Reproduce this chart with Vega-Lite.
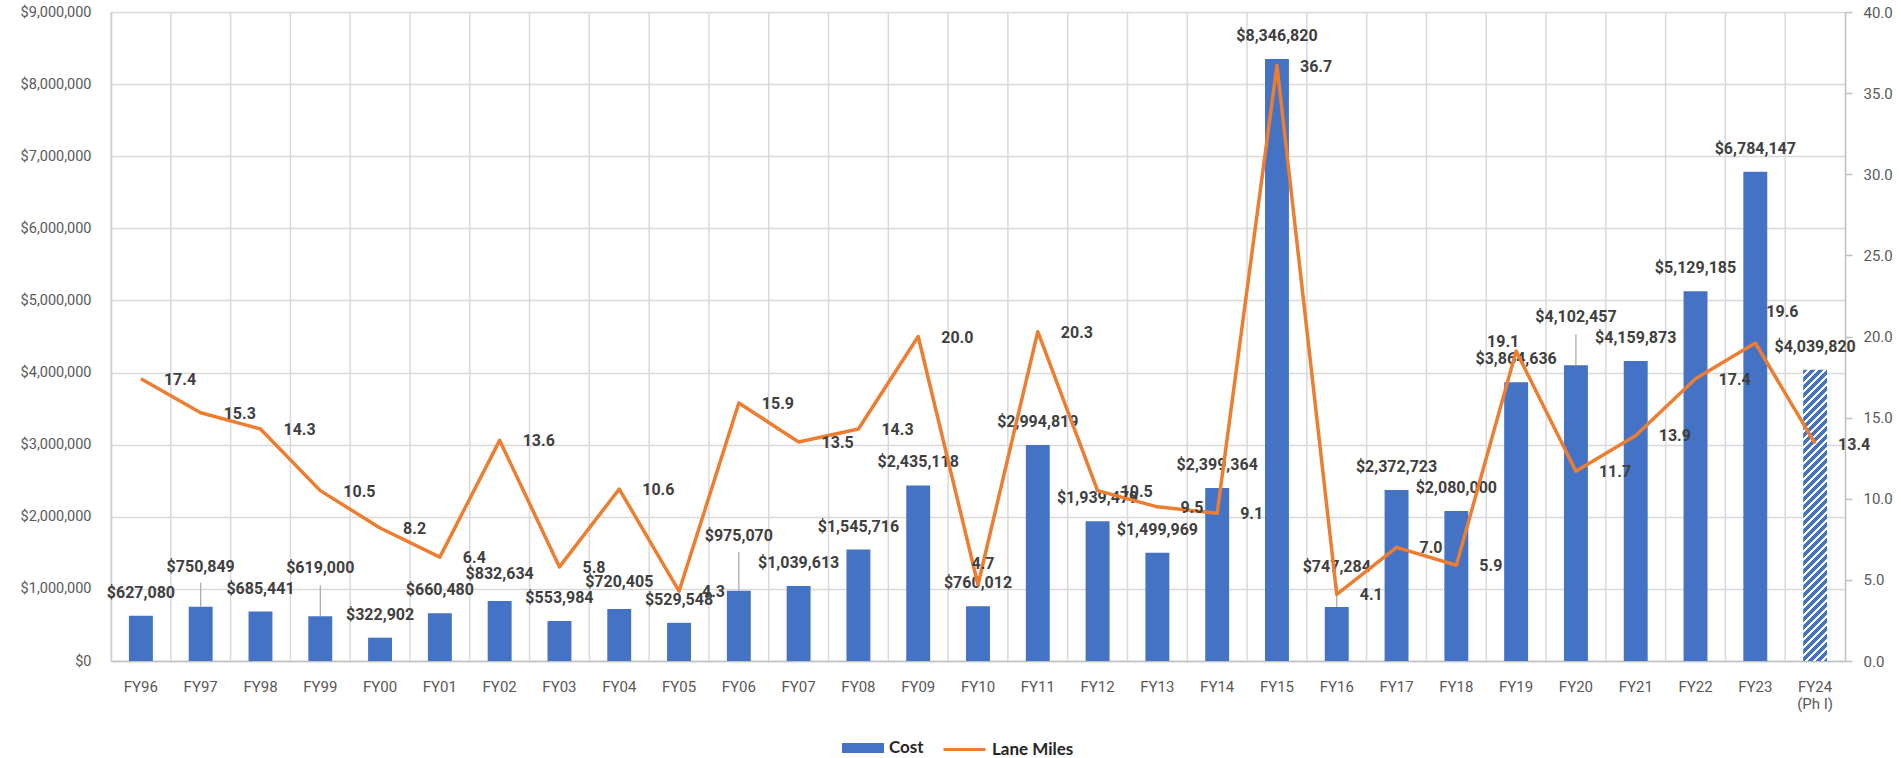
{
"$schema":"https://vega.github.io/schema/vega-lite/v6.json",
"width":1734,"height":649,
"padding":{"left":5,"top":4,"right":0,"bottom":0},
"background":"white",
"data":{"values":[
{"Year":"FY96","Cost":627080,"LaneMiles":17.4},
{"Year":"FY97","Cost":750849,"LaneMiles":15.3},
{"Year":"FY98","Cost":685441,"LaneMiles":14.3},
{"Year":"FY99","Cost":619000,"LaneMiles":10.5},
{"Year":"FY00","Cost":322902,"LaneMiles":8.2},
{"Year":"FY01","Cost":660480,"LaneMiles":6.4},
{"Year":"FY02","Cost":832634,"LaneMiles":13.6},
{"Year":"FY03","Cost":553984,"LaneMiles":5.8},
{"Year":"FY04","Cost":720405,"LaneMiles":10.6},
{"Year":"FY05","Cost":529548,"LaneMiles":4.3},
{"Year":"FY06","Cost":975070,"LaneMiles":15.9},
{"Year":"FY07","Cost":1039613,"LaneMiles":13.5},
{"Year":"FY08","Cost":1545716,"LaneMiles":14.3},
{"Year":"FY09","Cost":2435118,"LaneMiles":20.0},
{"Year":"FY10","Cost":760012,"LaneMiles":4.7},
{"Year":"FY11","Cost":2994819,"LaneMiles":20.3},
{"Year":"FY12","Cost":1939479,"LaneMiles":10.5},
{"Year":"FY13","Cost":1499969,"LaneMiles":9.5},
{"Year":"FY14","Cost":2399364,"LaneMiles":9.1},
{"Year":"FY15","Cost":8346820,"LaneMiles":36.7},
{"Year":"FY16","Cost":747284,"LaneMiles":4.1},
{"Year":"FY17","Cost":2372723,"LaneMiles":7.0},
{"Year":"FY18","Cost":2080000,"LaneMiles":5.9},
{"Year":"FY19","Cost":3864636,"LaneMiles":19.1},
{"Year":"FY20","Cost":4102457,"LaneMiles":11.7},
{"Year":"FY21","Cost":4159873,"LaneMiles":13.9},
{"Year":"FY22","Cost":5129185,"LaneMiles":17.4},
{"Year":"FY23","Cost":6784147,"LaneMiles":19.6},
{"Year":"FY24 (Ph I)","Cost":4039820,"LaneMiles":13.4}
]},
"layer":[
{"layer":[
 {"mark":{"type":"rule","color":"#D9D9D9","strokeWidth":1.5},
  "encoding":{
   "x":{"field":"Year","type":"nominal","title":null,"sort":null,"bandPosition":-0.75,
     "scale":{"paddingInner":0.6,"paddingOuter":0.3},
     "axis":{"title":null,"labelAngle":0,"labelFont":"Roboto","labelFontSize":15,"labelColor":"#595959","labelPadding":18,"tickSize":0,"grid":false,"domainColor":"#BFBFBF","domainWidth":1.5,"labelOverlap":false,
       "labelExpr":"indexof(datum.value,' (')>0 ? [slice(datum.value,0,indexof(datum.value,' (')), slice(datum.value,indexof(datum.value,' (')+1)] : datum.value"}}
  }},
 {"transform":[{"filter":"datum.Year !== 'FY24 (Ph I)'"}],
  "mark":{"type":"bar"},
  "encoding":{
   "x":{"field":"Year","type":"nominal","title":null,"sort":null},
   "y":{"field":"Cost","type":"quantitative","title":null,
     "scale":{"domain":[0,9000000],"nice":false},
     "axis":{"title":null,"orient":"left","tickCount":9,"format":"$,.0f","labelFont":"Roboto","labelFontSize":14.5,"labelColor":"#595959","labelPadding":20,"tickSize":0,"grid":true,"gridColor":"#D9D9D9","gridWidth":1.5,"domainColor":"#BFBFBF","domainWidth":1.5,"minExtent":106,"maxExtent":106}},
   "fill":{"datum":"Cost","type":"nominal",
     "scale":{"domain":["Cost"],"range":["#4472C4"]},
     "legend":{"orient":"none","legendX":731,"legendY":715,"title":null,"symbolType":"M-1,-0.24L1,-0.24L1,0.24L-1,0.24Z","symbolSize":1764,"symbolStrokeWidth":0,"labelFont":"Lato","labelFontWeight":"bold","labelFontSize":17,"labelColor":"#262626","labelOffset":5,"padding":0}}
  }},
 {"transform":[{"filter":"datum.Year === 'FY24 (Ph I)'"}],
  "mark":{"type":"bar",
   "fill":{"gradient":"linear","x1":0,"y1":0,"x2":0.0882,"y2":1.0749,"stops":[
{"offset":0,"color":"#4472C4"},{"offset":0.014,"color":"#4472C4"},{"offset":0.014,"color":"#FFFFFF"},{"offset":0.0254,"color":"#FFFFFF"},
{"offset":0.0254,"color":"#4472C4"},{"offset":0.0394,"color":"#4472C4"},{"offset":0.0394,"color":"#FFFFFF"},{"offset":0.0508,"color":"#FFFFFF"},
{"offset":0.0508,"color":"#4472C4"},{"offset":0.0648,"color":"#4472C4"},{"offset":0.0648,"color":"#FFFFFF"},{"offset":0.0761,"color":"#FFFFFF"},
{"offset":0.0761,"color":"#4472C4"},{"offset":0.0901,"color":"#4472C4"},{"offset":0.0901,"color":"#FFFFFF"},{"offset":0.1015,"color":"#FFFFFF"},
{"offset":0.1015,"color":"#4472C4"},{"offset":0.1155,"color":"#4472C4"},{"offset":0.1155,"color":"#FFFFFF"},{"offset":0.1269,"color":"#FFFFFF"},
{"offset":0.1269,"color":"#4472C4"},{"offset":0.1409,"color":"#4472C4"},{"offset":0.1409,"color":"#FFFFFF"},{"offset":0.1523,"color":"#FFFFFF"},
{"offset":0.1523,"color":"#4472C4"},{"offset":0.1663,"color":"#4472C4"},{"offset":0.1663,"color":"#FFFFFF"},{"offset":0.1777,"color":"#FFFFFF"},
{"offset":0.1777,"color":"#4472C4"},{"offset":0.1917,"color":"#4472C4"},{"offset":0.1917,"color":"#FFFFFF"},{"offset":0.2030,"color":"#FFFFFF"},
{"offset":0.2030,"color":"#4472C4"},{"offset":0.2170,"color":"#4472C4"},{"offset":0.2170,"color":"#FFFFFF"},{"offset":0.2284,"color":"#FFFFFF"},
{"offset":0.2284,"color":"#4472C4"},{"offset":0.2424,"color":"#4472C4"},{"offset":0.2424,"color":"#FFFFFF"},{"offset":0.2538,"color":"#FFFFFF"},
{"offset":0.2538,"color":"#4472C4"},{"offset":0.2678,"color":"#4472C4"},{"offset":0.2678,"color":"#FFFFFF"},{"offset":0.2792,"color":"#FFFFFF"},
{"offset":0.2792,"color":"#4472C4"},{"offset":0.2932,"color":"#4472C4"},{"offset":0.2932,"color":"#FFFFFF"},{"offset":0.3046,"color":"#FFFFFF"},
{"offset":0.3046,"color":"#4472C4"},{"offset":0.3186,"color":"#4472C4"},{"offset":0.3186,"color":"#FFFFFF"},{"offset":0.3299,"color":"#FFFFFF"},
{"offset":0.3299,"color":"#4472C4"},{"offset":0.3439,"color":"#4472C4"},{"offset":0.3439,"color":"#FFFFFF"},{"offset":0.3553,"color":"#FFFFFF"},
{"offset":0.3553,"color":"#4472C4"},{"offset":0.3693,"color":"#4472C4"},{"offset":0.3693,"color":"#FFFFFF"},{"offset":0.3807,"color":"#FFFFFF"},
{"offset":0.3807,"color":"#4472C4"},{"offset":0.3947,"color":"#4472C4"},{"offset":0.3947,"color":"#FFFFFF"},{"offset":0.4061,"color":"#FFFFFF"},
{"offset":0.4061,"color":"#4472C4"},{"offset":0.4201,"color":"#4472C4"},{"offset":0.4201,"color":"#FFFFFF"},{"offset":0.4315,"color":"#FFFFFF"},
{"offset":0.4315,"color":"#4472C4"},{"offset":0.4455,"color":"#4472C4"},{"offset":0.4455,"color":"#FFFFFF"},{"offset":0.4568,"color":"#FFFFFF"},
{"offset":0.4568,"color":"#4472C4"},{"offset":0.4708,"color":"#4472C4"},{"offset":0.4708,"color":"#FFFFFF"},{"offset":0.4822,"color":"#FFFFFF"},
{"offset":0.4822,"color":"#4472C4"},{"offset":0.4962,"color":"#4472C4"},{"offset":0.4962,"color":"#FFFFFF"},{"offset":0.5076,"color":"#FFFFFF"},
{"offset":0.5076,"color":"#4472C4"},{"offset":0.5216,"color":"#4472C4"},{"offset":0.5216,"color":"#FFFFFF"},{"offset":0.5330,"color":"#FFFFFF"},
{"offset":0.5330,"color":"#4472C4"},{"offset":0.5470,"color":"#4472C4"},{"offset":0.5470,"color":"#FFFFFF"},{"offset":0.5584,"color":"#FFFFFF"},
{"offset":0.5584,"color":"#4472C4"},{"offset":0.5724,"color":"#4472C4"},{"offset":0.5724,"color":"#FFFFFF"},{"offset":0.5837,"color":"#FFFFFF"},
{"offset":0.5837,"color":"#4472C4"},{"offset":0.5977,"color":"#4472C4"},{"offset":0.5977,"color":"#FFFFFF"},{"offset":0.6091,"color":"#FFFFFF"},
{"offset":0.6091,"color":"#4472C4"},{"offset":0.6231,"color":"#4472C4"},{"offset":0.6231,"color":"#FFFFFF"},{"offset":0.6345,"color":"#FFFFFF"},
{"offset":0.6345,"color":"#4472C4"},{"offset":0.6485,"color":"#4472C4"},{"offset":0.6485,"color":"#FFFFFF"},{"offset":0.6599,"color":"#FFFFFF"},
{"offset":0.6599,"color":"#4472C4"},{"offset":0.6739,"color":"#4472C4"},{"offset":0.6739,"color":"#FFFFFF"},{"offset":0.6853,"color":"#FFFFFF"},
{"offset":0.6853,"color":"#4472C4"},{"offset":0.6993,"color":"#4472C4"},{"offset":0.6993,"color":"#FFFFFF"},{"offset":0.7106,"color":"#FFFFFF"},
{"offset":0.7106,"color":"#4472C4"},{"offset":0.7246,"color":"#4472C4"},{"offset":0.7246,"color":"#FFFFFF"},{"offset":0.7360,"color":"#FFFFFF"},
{"offset":0.7360,"color":"#4472C4"},{"offset":0.7500,"color":"#4472C4"},{"offset":0.7500,"color":"#FFFFFF"},{"offset":0.7614,"color":"#FFFFFF"},
{"offset":0.7614,"color":"#4472C4"},{"offset":0.7754,"color":"#4472C4"},{"offset":0.7754,"color":"#FFFFFF"},{"offset":0.7868,"color":"#FFFFFF"},
{"offset":0.7868,"color":"#4472C4"},{"offset":0.8008,"color":"#4472C4"},{"offset":0.8008,"color":"#FFFFFF"},{"offset":0.8122,"color":"#FFFFFF"},
{"offset":0.8122,"color":"#4472C4"},{"offset":0.8262,"color":"#4472C4"},{"offset":0.8262,"color":"#FFFFFF"},{"offset":0.8375,"color":"#FFFFFF"},
{"offset":0.8375,"color":"#4472C4"},{"offset":0.8515,"color":"#4472C4"},{"offset":0.8515,"color":"#FFFFFF"},{"offset":0.8629,"color":"#FFFFFF"},
{"offset":0.8629,"color":"#4472C4"},{"offset":0.8769,"color":"#4472C4"},{"offset":0.8769,"color":"#FFFFFF"},{"offset":0.8883,"color":"#FFFFFF"},
{"offset":0.8883,"color":"#4472C4"},{"offset":0.9023,"color":"#4472C4"},{"offset":0.9023,"color":"#FFFFFF"},{"offset":0.9137,"color":"#FFFFFF"},
{"offset":0.9137,"color":"#4472C4"},{"offset":0.9277,"color":"#4472C4"},{"offset":0.9277,"color":"#FFFFFF"},{"offset":0.9391,"color":"#FFFFFF"},
{"offset":0.9391,"color":"#4472C4"},{"offset":0.9531,"color":"#4472C4"},{"offset":0.9531,"color":"#FFFFFF"},{"offset":0.9644,"color":"#FFFFFF"},
{"offset":0.9644,"color":"#4472C4"},{"offset":0.9784,"color":"#4472C4"},{"offset":0.9784,"color":"#FFFFFF"},{"offset":0.9898,"color":"#FFFFFF"},
{"offset":0.9898,"color":"#4472C4"},{"offset":1,"color":"#4472C4"}]}},
  "encoding":{
   "x":{"field":"Year","type":"nominal","title":null,"sort":null},
   "y":{"field":"Cost","type":"quantitative","title":null}
  }},
 {"transform":[{"filter":{"field":"Year","oneOf":["FY97","FY16"]}}],
  "mark":{"type":"rule","color":"#A6A6A6","strokeWidth":1.2,"y2Offset":-24},
  "encoding":{"x":{"field":"Year","type":"nominal","title":null,"sort":null},"y":{"field":"Cost","type":"quantitative","title":null},"y2":{"field":"Cost"}}},
 {"transform":[{"filter":{"field":"Year","oneOf":["FY99","FY20"]}}],
  "mark":{"type":"rule","color":"#A6A6A6","strokeWidth":1.2,"y2Offset":-31},
  "encoding":{"x":{"field":"Year","type":"nominal","title":null,"sort":null},"y":{"field":"Cost","type":"quantitative","title":null},"y2":{"field":"Cost"}}},
 {"transform":[{"filter":{"field":"Year","oneOf":["FY06"]}}],
  "mark":{"type":"rule","color":"#A6A6A6","strokeWidth":1.2,"y2Offset":-39},
  "encoding":{"x":{"field":"Year","type":"nominal","title":null,"sort":null},"y":{"field":"Cost","type":"quantitative","title":null},"y2":{"field":"Cost"}}},
 {"transform":[{"filter":{"not":{"field":"Year","oneOf":["FY97","FY16","FY99","FY20","FY06","FY02","FY04"]}}}],
  "mark":{"type":"text","font":"Roboto","fontWeight":"bold","fontSize":16,"fill":"#404040","baseline":"middle","align":"center","dy":-23},
  "encoding":{"x":{"field":"Year","type":"nominal","title":null,"sort":null},"y":{"field":"Cost","type":"quantitative","title":null},"text":{"field":"Cost","type":"quantitative","format":"$,.0f"}}},
 {"transform":[{"filter":{"field":"Year","oneOf":["FY02","FY04"]}}],
  "mark":{"type":"text","font":"Roboto","fontWeight":"bold","fontSize":16,"fill":"#404040","baseline":"middle","align":"center","dy":-27},
  "encoding":{"x":{"field":"Year","type":"nominal","title":null,"sort":null},"y":{"field":"Cost","type":"quantitative","title":null},"text":{"field":"Cost","type":"quantitative","format":"$,.0f"}}},
 {"transform":[{"filter":{"field":"Year","oneOf":["FY97","FY16"]}}],
  "mark":{"type":"text","font":"Roboto","fontWeight":"bold","fontSize":16,"fill":"#404040","baseline":"middle","align":"center","dy":-40},
  "encoding":{"x":{"field":"Year","type":"nominal","title":null,"sort":null},"y":{"field":"Cost","type":"quantitative","title":null},"text":{"field":"Cost","type":"quantitative","format":"$,.0f"}}},
 {"transform":[{"filter":{"field":"Year","oneOf":["FY99","FY20"]}}],
  "mark":{"type":"text","font":"Roboto","fontWeight":"bold","fontSize":16,"fill":"#404040","baseline":"middle","align":"center","dy":-48},
  "encoding":{"x":{"field":"Year","type":"nominal","title":null,"sort":null},"y":{"field":"Cost","type":"quantitative","title":null},"text":{"field":"Cost","type":"quantitative","format":"$,.0f"}}},
 {"transform":[{"filter":{"field":"Year","oneOf":["FY06"]}}],
  "mark":{"type":"text","font":"Roboto","fontWeight":"bold","fontSize":16,"fill":"#404040","baseline":"middle","align":"center","dy":-55},
  "encoding":{"x":{"field":"Year","type":"nominal","title":null,"sort":null},"y":{"field":"Cost","type":"quantitative","title":null},"text":{"field":"Cost","type":"quantitative","format":"$,.0f"}}}
]},
{"layer":[
 {"mark":{"type":"line","strokeWidth":3.5,"strokeJoin":"round"},
  "encoding":{
   "x":{"field":"Year","type":"nominal","title":null,"sort":null},
   "y":{"field":"LaneMiles","type":"quantitative","title":null,
     "scale":{"domain":[0,40],"nice":false},
     "axis":{"title":null,"orient":"right","tickCount":8,"format":".1f","labelFont":"Roboto","labelFontSize":15,"labelColor":"#595959","labelPadding":11,"tickSize":7,"tickColor":"#BFBFBF","tickWidth":1.5,"grid":false,"domainColor":"#BFBFBF","domainWidth":1.5,"minExtent":50,"maxExtent":50}},
   "stroke":{"datum":"Lane Miles","type":"nominal","scale":{"domain":["Lane Miles"],"range":["#ED7D31"]},
     "legend":{"orient":"none","legendX":831,"legendY":715,"title":null,"symbolType":"stroke","symbolSize":1764,"symbolStrokeWidth":3,"labelFont":"Lato","labelFontWeight":"bold","labelFontSize":17,"labelColor":"#262626","labelOffset":5,"padding":0}}
  }},
 {"transform":[{"filter":{"not":{"field":"Year","oneOf":["FY10","FY19","FY23"]}}}],
  "mark":{"type":"text","font":"Roboto","fontWeight":"bold","fontSize":16,"fill":"#404040","baseline":"middle","align":"left","dx":23,"dy":1},
  "encoding":{"x":{"field":"Year","type":"nominal","title":null,"sort":null},"y":{"field":"LaneMiles","type":"quantitative","title":null},"text":{"field":"LaneMiles","type":"quantitative","format":".1f"}}},
 {"transform":[{"filter":{"field":"Year","oneOf":["FY10"]}}],
  "mark":{"type":"text","font":"Roboto","fontWeight":"bold","fontSize":16,"fill":"#404040","baseline":"middle","align":"center","dx":5,"dy":-21},
  "encoding":{"x":{"field":"Year","type":"nominal","title":null,"sort":null},"y":{"field":"LaneMiles","type":"quantitative","title":null},"text":{"field":"LaneMiles","type":"quantitative","format":".1f"}}},
 {"transform":[{"filter":{"field":"Year","oneOf":["FY19"]}}],
  "mark":{"type":"text","font":"Roboto","fontWeight":"bold","fontSize":16,"fill":"#404040","baseline":"middle","align":"center","dx":-13,"dy":-9},
  "encoding":{"x":{"field":"Year","type":"nominal","title":null,"sort":null},"y":{"field":"LaneMiles","type":"quantitative","title":null},"text":{"field":"LaneMiles","type":"quantitative","format":".1f"}}},
 {"transform":[{"filter":{"field":"Year","oneOf":["FY23"]}}],
  "mark":{"type":"text","font":"Roboto","fontWeight":"bold","fontSize":16,"fill":"#404040","baseline":"middle","align":"left","dx":11,"dy":-31},
  "encoding":{"x":{"field":"Year","type":"nominal","title":null,"sort":null},"y":{"field":"LaneMiles","type":"quantitative","title":null},"text":{"field":"LaneMiles","type":"quantitative","format":".1f"}}}
]}
],
"resolve":{"scale":{"y":"independent"}},
"config":{"view":{"stroke":null},"font":"Roboto"}
}
